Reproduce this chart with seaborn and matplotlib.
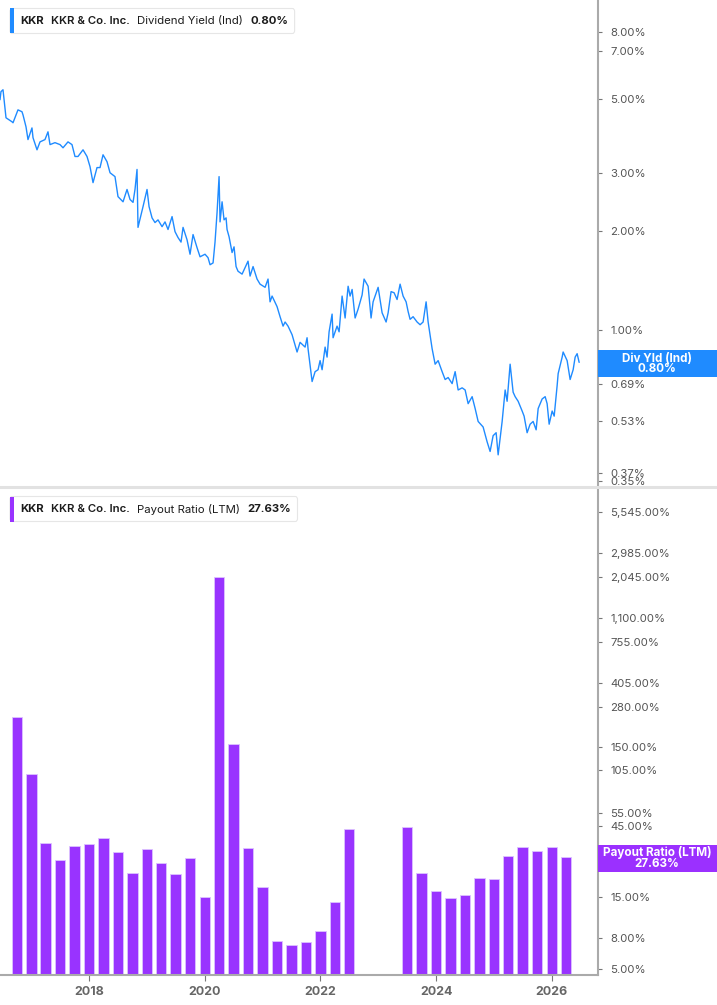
import pandas as pd
import seaborn as sns
import matplotlib.pyplot as plt
from matplotlib.patches import Rectangle, FancyBboxPatch
from matplotlib.lines import Line2D
from matplotlib.ticker import NullLocator

# dividend yield (Ind), % -- decimal year / value
yield_years = [
    2016.457, 2016.474, 2016.509, 2016.561, 2016.664, 2016.682, 2016.768, 2016.837, 2016.855, 2016.907,
    2016.941, 2017.010, 2017.028, 2017.097, 2017.149, 2017.235, 2017.287, 2017.322, 2017.408, 2017.495,
    2017.547, 2017.633, 2017.702, 2017.754, 2017.806, 2017.893, 2017.962, 2018.014, 2018.066, 2018.135,
    2018.187, 2018.239, 2018.308, 2018.360, 2018.446, 2018.498, 2018.585, 2018.654, 2018.706, 2018.758,
    2018.792, 2018.827, 2018.844, 2018.931, 2019.000, 2019.035, 2019.087, 2019.138, 2019.190, 2019.260,
    2019.311, 2019.363, 2019.433, 2019.484, 2019.536, 2019.588, 2019.623, 2019.692, 2019.744, 2019.796,
    2019.865, 2019.917, 2020.003, 2020.055, 2020.090, 2020.142, 2020.176, 2020.211, 2020.246, 2020.263,
    2020.298, 2020.332, 2020.367, 2020.384, 2020.419, 2020.471, 2020.505, 2020.540, 2020.574, 2020.644,
    2020.696, 2020.747, 2020.782, 2020.834, 2020.903, 2020.955, 2021.042, 2021.093, 2021.128, 2021.163,
    2021.249, 2021.301, 2021.353, 2021.388, 2021.439, 2021.509, 2021.595, 2021.647, 2021.734, 2021.768,
    2021.785, 2021.855, 2021.907, 2021.958, 2021.993, 2022.028, 2022.080, 2022.114, 2022.149, 2022.201,
    2022.218, 2022.287, 2022.322, 2022.374, 2022.426, 2022.478, 2022.512, 2022.547, 2022.599, 2022.651,
    2022.720, 2022.754, 2022.824, 2022.875, 2022.910, 2022.997, 2023.066, 2023.135, 2023.170, 2023.221,
    2023.273, 2023.325, 2023.377, 2023.429, 2023.481, 2023.516, 2023.550, 2023.602, 2023.671, 2023.723,
    2023.775, 2023.827, 2023.862, 2023.931, 2023.983, 2024.035, 2024.104, 2024.156, 2024.208, 2024.277,
    2024.329, 2024.381, 2024.450, 2024.502, 2024.554, 2024.623, 2024.675, 2024.727, 2024.813, 2024.882,
    2024.934, 2024.986, 2025.038, 2025.073, 2025.142, 2025.194, 2025.228, 2025.280, 2025.332, 2025.367,
    2025.419, 2025.488, 2025.522, 2025.574, 2025.626, 2025.678, 2025.730, 2025.765, 2025.834, 2025.886,
    2025.920, 2025.955, 2026.007, 2026.042, 2026.093, 2026.111, 2026.180, 2026.197, 2026.266, 2026.318,
    2026.370, 2026.405, 2026.439, 2026.474,
]
yield_pct = [
    4.99, 5.28, 5.35, 4.40, 4.28, 4.25, 4.65, 4.59, 4.49, 4.13,
    3.78, 4.10, 3.83, 3.52, 3.72, 3.78, 3.99, 3.65, 3.70, 3.65,
    3.57, 3.72, 3.65, 3.36, 3.36, 3.52, 3.36, 3.13, 2.80, 3.11,
    3.11, 3.40, 3.24, 3.00, 2.92, 2.54, 2.45, 2.67, 2.49, 2.44,
    2.67, 3.07, 2.05, 2.37, 2.67, 2.37, 2.19, 2.12, 2.16, 2.06,
    2.13, 2.02, 2.21, 1.99, 1.91, 1.85, 2.05, 1.88, 1.70, 1.95,
    1.78, 1.67, 1.70, 1.66, 1.58, 1.60, 1.85, 2.27, 2.92, 2.13,
    2.45, 2.16, 2.19, 2.02, 1.92, 1.72, 1.79, 1.56, 1.51, 1.48,
    1.55, 1.62, 1.46, 1.56, 1.43, 1.38, 1.35, 1.43, 1.22, 1.27,
    1.18, 1.10, 1.03, 1.06, 1.03, 0.97, 0.86, 0.92, 0.89, 0.95,
    0.88, 0.70, 0.75, 0.76, 0.81, 0.76, 0.89, 0.83, 0.99, 1.12,
    0.95, 1.03, 0.99, 1.27, 1.09, 1.36, 1.27, 1.33, 1.09, 1.16,
    1.28, 1.43, 1.36, 1.09, 1.22, 1.35, 1.13, 1.06, 1.13, 1.31,
    1.30, 1.24, 1.38, 1.27, 1.22, 1.14, 1.08, 1.10, 1.06, 1.04,
    1.06, 1.22, 1.06, 0.88, 0.79, 0.81, 0.75, 0.71, 0.72, 0.69,
    0.75, 0.66, 0.67, 0.66, 0.60, 0.63, 0.58, 0.53, 0.51, 0.46,
    0.43, 0.48, 0.49, 0.42, 0.53, 0.66, 0.61, 0.79, 0.65, 0.63,
    0.61, 0.57, 0.55, 0.49, 0.52, 0.53, 0.50, 0.58, 0.62, 0.63,
    0.60, 0.52, 0.57, 0.55, 0.68, 0.74, 0.83, 0.86, 0.81, 0.71,
    0.76, 0.83, 0.85, 0.80,
]

# payout ratio (LTM), % by quarter end
quarter_ends = [
    "2016-09-30", "2016-12-31", "2017-03-31", "2017-06-30", "2017-09-30", "2017-12-31",
    "2018-03-31", "2018-06-30", "2018-09-30", "2018-12-31", "2019-03-31", "2019-06-30",
    "2019-09-30", "2019-12-31", "2020-03-31", "2020-06-30", "2020-09-30", "2020-12-31",
    "2021-03-31", "2021-06-30", "2021-09-30", "2021-12-31", "2022-03-31", "2022-06-30",
    "2023-06-30", "2023-09-30", "2023-12-31", "2024-03-31", "2024-06-30", "2024-09-30",
    "2024-12-31", "2025-03-31", "2025-06-30", "2025-09-30", "2025-12-31", "2026-03-31",
]
payout_pct = [
    240, 100, 34.7, 26.7, 32.7, 33.9, 37.2, 30.0, 21.8, 31.4, 25.3, 21.5,
    27.5, 15.1, 2050, 158, 31.9, 17.5, 7.6, 7.2, 7.5, 8.9, 14.0, 42.9,
    44.1, 21.7, 16.4, 14.9, 15.6, 20.1, 19.8, 28.2, 32.5, 30.6, 32.4, 27.63,
]

yield_ticks = [8, 7, 5, 3, 2, 1, 0.85, 0.69, 0.53, 0.37, 0.35]
payout_ticks = [5545, 2985, 2045, 1100, 755, 405, 280, 150, 105, 55, 45, 25, 15, 8, 5]
year_ticks = [2018, 2020, 2022, 2024, 2026]

BLUE = "#1f8bff"
PURPLE = "#9933ff"
W, H = 717, 1005


def dec_year(s):
    d = pd.Timestamp(s)
    return d.year + d.dayofyear / (366 if d.is_leap_year else 365)


bars = pd.DataFrame({"x": [dec_year(q) for q in quarter_ends], "payout": payout_pct})
line = pd.DataFrame({"x": yield_years, "yield": yield_pct})

sns.set_style("white")
plt.rcParams["font.family"] = ["Inter", "DejaVu Sans"]

fig = plt.figure(figsize=(W / 100, H / 100), dpi=100)
right = 598 / W
ax1 = fig.add_axes([0, (H - 486) / H, right, 486 / H])
ax2 = fig.add_axes([0, (H - 975) / H, right, (975 - 490) / H])

sns.lineplot(data=line, x="x", y="yield", color=BLUE, linewidth=1.0, estimator=None, ax=ax1)
sns.barplot(data=bars, x="x", y="payout", native_scale=True, width=0.73, color=PURPLE,
            saturation=1, errorbar=None, edgecolor="#dcc2ff", linewidth=0.6, ax=ax2)

xlim = (2016.457, 2026.80)
for ax, ticks, lim in [(ax1, yield_ticks, (0.338, 10.0)), (ax2, payout_ticks, (4.54, 7800))]:
    ax.set_yscale("log")
    ax.set_ylim(*lim)
    ax.set_xlim(*xlim)
    ax.set_yticks(ticks)
    ax.set_yticklabels([f"{t:,.2f}%" for t in ticks])
    ax.yaxis.set_minor_locator(NullLocator())
    ax.yaxis.tick_right()
    ax.tick_params(axis="y", length=3, width=0.8, color="#777777", labelcolor="#555555",
                   labelsize=8.2, pad=6)
    ax.set_xlabel("")
    ax.set_ylabel("")
    for s in ["top", "left", "bottom"]:
        ax.spines[s].set_visible(False)
    ax.spines["right"].set_color("#aaaaaa")
    ax.spines["right"].set_linewidth(1.5)

ax1.set_xticks([])
ax2.spines["bottom"].set_visible(True)
ax2.spines["bottom"].set_color("#aaaaaa")
ax2.spines["bottom"].set_linewidth(1.5)
ax2.set_xticks(year_ticks)
ax2.set_xticklabels([str(y) for y in year_ticks])
ax2.xaxis.tick_bottom()
ax2.tick_params(axis="x", length=4, width=0.8, color="#777777", labelcolor="#666666",
                labelsize=9, pad=4)
for lbl in ax2.get_xticklabels():
    lbl.set_fontweight("bold")

# separator between the panels
fig.add_artist(Line2D([0, 1], [(H - 487.5) / H] * 2, color="#e2e2e2", linewidth=2.2))

renderer = fig.canvas.get_renderer()


def legend_box(yc, items, accent):
    x = 20
    for text, weight in items:
        t = fig.text(x / W, 1 - yc / H, text, fontsize=8.2, fontweight=weight,
                     va="center", ha="left", color="#1c1c1c", zorder=5)
        bb = t.get_window_extent(renderer)
        x = bb.x1 + 7.5
    x1 = x - 7.5 + 6
    fig.add_artist(FancyBboxPatch((10 / W, 1 - (yc + 12.5) / H), (x1 - 10) / W, 25 / H,
                                  boxstyle="round,pad=0,rounding_size=0.003",
                                  facecolor="white", edgecolor="#e6e6e6", linewidth=0.8, zorder=4))
    fig.add_artist(Rectangle((10 / W, 1 - (yc + 12.5) / H), 3.5 / W, 25 / H,
                             facecolor=accent, edgecolor="none", zorder=4.5))


legend_box(21, [("KKR", "bold"), ("KKR & Co. Inc.", "semibold"),
                ("Dividend Yield (Ind)", "normal"), ("0.80%", "bold")], BLUE)
legend_box(509, [("KKR", "bold"), ("KKR & Co. Inc.", "semibold"),
                 ("Payout Ratio (LTM)", "normal"), ("27.63%", "bold")], PURPLE)


def value_tag(yc, name, value, color):
    fig.add_artist(Rectangle((598 / W, 1 - (yc + 13.5) / H), (W - 598) / W, 27 / H,
                             facecolor=color, edgecolor="none", zorder=6))
    fig.text(657 / W, 1 - (yc - 5.5) / H, name, fontsize=8.4, fontweight="bold",
             color="white", ha="center", va="center", zorder=7)
    fig.text(657 / W, 1 - (yc + 5.5) / H, value, fontsize=8.4, fontweight="bold",
             color="white", ha="center", va="center", zorder=7)


value_tag(364, "Div Yld (Ind)", "0.80%", BLUE)
value_tag(858, "Payout Ratio (LTM)", "27.63%", "#9b30ff")

fig.savefig("out.png", dpi=100, facecolor="white")
